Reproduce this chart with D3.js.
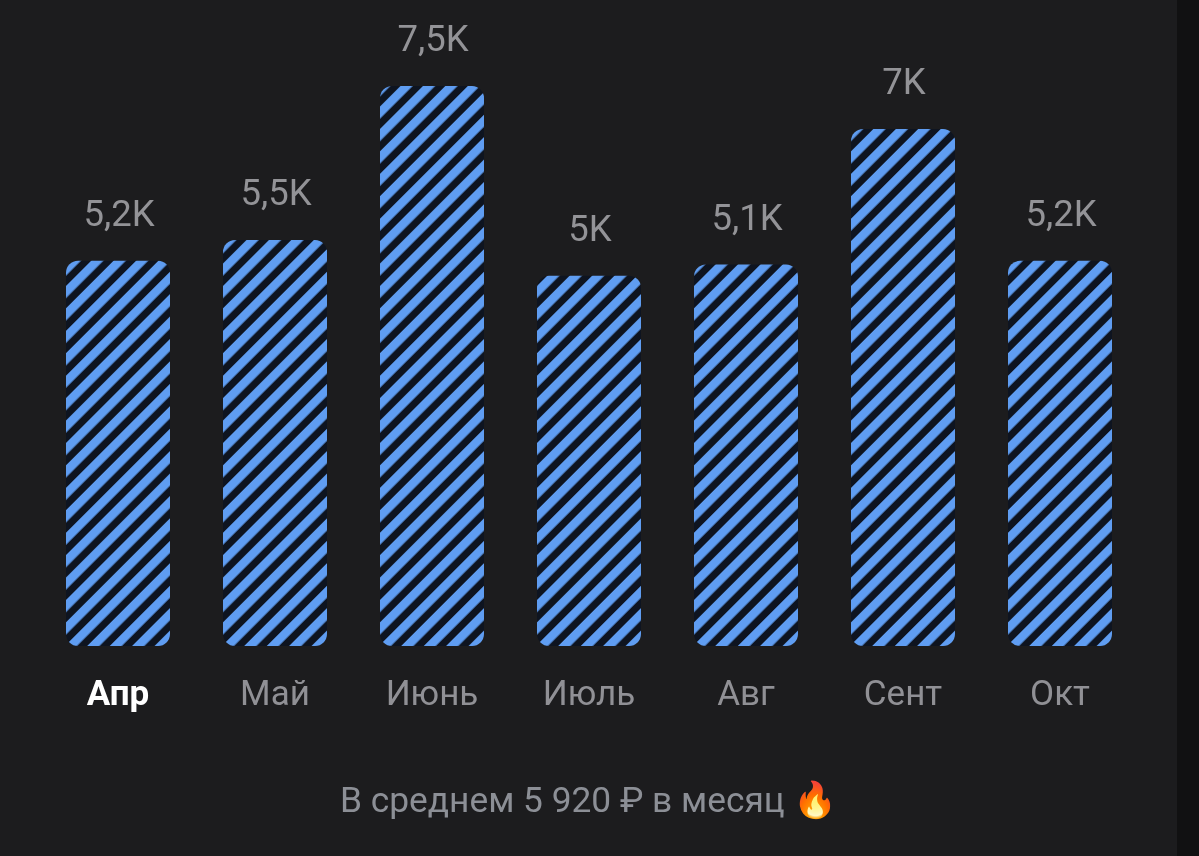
<!DOCTYPE html>
<html><head><meta charset="utf-8">
<script src="https://cdn.jsdelivr.net/npm/d3@7/dist/d3.min.js"></script>
<style>html,body{margin:0;padding:0;background:#1c1c1e;overflow:hidden}svg{display:block}text{font-family:Roboto,sans-serif}.t{filter:brightness(1.001)}</style>
</head><body><svg id="c" width="1199" height="856"></svg>
<script>
const months = ["Апр","Май","Июнь","Июль","Авг","Сент","Окт"];
const values = [5200,5480,7560,5000,5150,6980,5200];
const valueLabels = ["5,2K","5,5K","7,5K","5K","5,1K","7K","5,2K"];
const caption = "В среднем 5 920 ₽ в месяц";

const svg = d3.select("#c");
svg.append("rect").attr("width",1199).attr("height",856).attr("fill","#1c1c1e");
svg.append("rect").attr("x",1177).attr("width",22).attr("height",856).attr("fill","#111112");

const x = d3.scaleBand().domain(months).range([66,1112]).paddingInner(53/157).paddingOuter(0);
const y = d3.scaleLinear().domain([0,7560]).range([646,86]);

const defs = svg.append("defs");
const p = defs.append("pattern").attr("id","stripes").attr("patternUnits","userSpaceOnUse")
  .attr("width",15.86).attr("height",15.86).attr("patternTransform","translate(64.8 646) rotate(45)");
p.append("rect").attr("width",15.86).attr("height",15.86).attr("fill","#0e1420");
p.append("rect").attr("x",0).attr("width",8.6).attr("height",15.86).attr("fill","#5f9df2");

svg.selectAll("rect.bar").data(months).join("rect").attr("class","bar")
  .attr("x",d=>x(d)).attr("width",x.bandwidth())
  .attr("y",(d,i)=>y(values[i])).attr("height",(d,i)=>y(0)-y(values[i]))
  .attr("rx",12).attr("fill","url(#stripes)");

const t = svg.append("g").attr("class","t");
t.selectAll("text.val").data(months).join("text").attr("class","val")
  .attr("x",d=>x(d)+x.bandwidth()/2+1).attr("y",(d,i)=>y(values[i])-35)
  .attr("text-anchor","middle").attr("font-size",36.5).attr("fill","#939397")
  .text((d,i)=>valueLabels[i]);

t.selectAll("text.mon").data(months).join("text").attr("class","mon")
  .attr("x",d=>x(d)+x.bandwidth()/2).attr("y",705)
  .attr("text-anchor","middle").attr("font-size",35)
  .attr("font-weight",(d,i)=>i===0?700:400)
  .attr("fill",(d,i)=>i===0?"#ffffff":"#909095").text(d=>d);

t.append("text").attr("x",340).attr("y",812).attr("font-size",35.3).attr("fill","#8c8f96")
  .text(caption+" 🔥");
</script></body></html>
